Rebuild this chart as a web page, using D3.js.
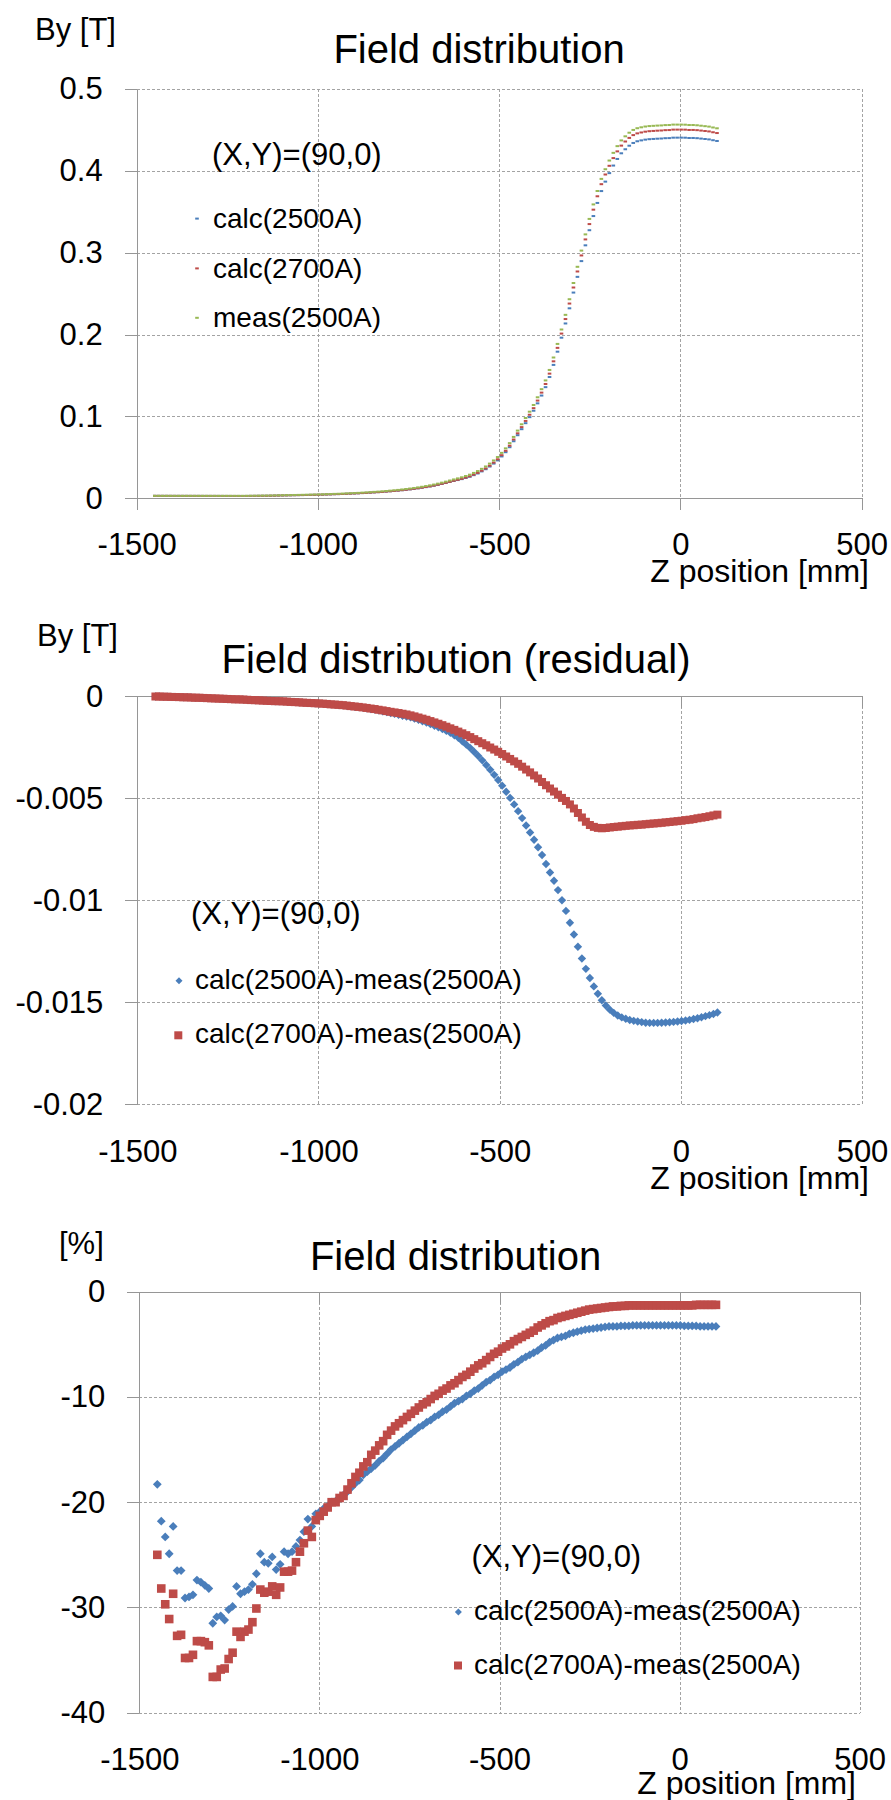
<!DOCTYPE html>
<html>
<head>
<meta charset="utf-8">
<script src="https://cdn.jsdelivr.net/npm/d3@7"></script>
<style>
  html, body { margin: 0; padding: 0; background: #fff; }
  svg { display: block; font-family: "Liberation Sans", Arial, Helvetica, sans-serif; }
</style>
</head>
<body>
<svg id="chart" width="891" height="1800"></svg>
<script>
// Z positions of the field map [mm]
const zPosition = [-1450,-1439,-1428,-1417,-1406,-1395,-1384,-1373,-1362,-1351,-1340,-1329,-1318,-1307,-1296,-1285,-1274,-1263,-1252,-1241,-1230,-1219,-1208,-1197,-1186,-1175,-1164,-1153,-1142,-1131,-1120,-1109,-1098,-1087,-1076,-1065,-1054,-1043,-1032,-1021,-1010,-999,-988,-977,-966,-955,-944,-933,-922,-911,-900,-889,-878,-867,-856,-845,-834,-823,-812,-801,-790,-779,-768,-757,-746,-735,-724,-713,-702,-691,-680,-669,-658,-647,-636,-625,-614,-603,-592,-581,-570,-559,-548,-537,-526,-515,-504,-493,-482,-471,-460,-449,-438,-427,-416,-405,-394,-383,-372,-361,-350,-339,-328,-317,-306,-295,-284,-273,-262,-251,-240,-229,-218,-207,-196,-185,-174,-163,-152,-141,-130,-119,-108,-97,-86,-75,-64,-53,-42,-31,-20,-9,2,13,24,35,46,57,68,79,90,101];

// By [T] at (X,Y)=(90,0)
const calc2500A = [0.00299,0.00299,0.00298,0.00298,0.00297,0.00296,0.00296,0.00295,0.00295,0.00294,
  0.00293,0.00293,0.00292,0.00291,0.0029,0.0029,0.00289,0.00288,0.00287,0.00286,
  0.00285,0.00285,0.00284,0.00286,0.00292,0.00296,0.003,0.00306,0.00308,0.00316,
  0.00326,0.00337,0.00347,0.00357,0.00367,0.00377,0.00387,0.00396,0.00406,0.00416,
  0.00426,0.00436,0.00448,0.00466,0.00479,0.00499,0.00513,0.00529,0.00549,0.00569,
  0.00589,0.0061,0.00639,0.0066,0.0069,0.0072,0.00749,0.00778,0.00815,0.00855,
  0.00894,0.00935,0.00985,0.01036,0.01091,0.01151,0.01217,0.01287,0.01365,0.01446,
  0.01536,0.01639,0.01752,0.01867,0.01994,0.02114,0.02229,0.02344,0.02483,0.02631,
  0.02827,0.03032,0.03286,0.03553,0.0388,0.0424,0.0463,0.05112,0.05632,0.06242,
  0.0697,0.07707,0.08443,0.09177,0.09912,0.10697,0.116,0.12552,0.13578,0.14816,
  0.16296,0.1791,0.1962,0.21358,0.2321,0.25132,0.27052,0.28975,0.30904,0.32749,
  0.34478,0.36082,0.3753,0.38684,0.39724,0.40648,0.41455,0.42146,0.42639,0.43073,
  0.43409,0.43616,0.43723,0.43815,0.43869,0.43899,0.43929,0.4395,0.43991,0.44002,
  0.44054,0.44056,0.44058,0.44051,0.44014,0.44018,0.43992,0.43942,0.43892,0.43842,
  0.43743,0.4365];

const calc2700A = [0.00299,0.00299,0.00298,0.00298,0.00297,0.00296,0.00296,0.00295,0.00295,0.00294,
  0.00293,0.00293,0.00292,0.00291,0.0029,0.0029,0.00289,0.00288,0.00287,0.00286,
  0.00285,0.00285,0.00284,0.00286,0.00292,0.00296,0.003,0.00306,0.00308,0.00316,
  0.00326,0.00337,0.00347,0.00357,0.00367,0.00377,0.00387,0.00396,0.00406,0.00416,
  0.00426,0.00436,0.00448,0.00466,0.00479,0.005,0.00514,0.00531,0.00551,0.0057,
  0.0059,0.00611,0.0064,0.00662,0.00692,0.00723,0.00752,0.00782,0.0082,0.0086,
  0.00901,0.00943,0.00995,0.01046,0.01101,0.01162,0.01228,0.013,0.01379,0.01461,
  0.01552,0.01657,0.01771,0.01887,0.02015,0.02141,0.02259,0.02383,0.0253,0.02685,
  0.0289,0.03105,0.0337,0.0365,0.03989,0.04364,0.04768,0.05267,0.05805,0.06433,
  0.07181,0.07939,0.08695,0.09451,0.10207,0.11012,0.11937,0.1291,0.13964,0.15228,
  0.16733,0.18378,0.20122,0.21897,0.2379,0.2575,0.27708,0.29666,0.31625,0.33499,
  0.3526,0.36895,0.38373,0.39555,0.40617,0.41559,0.42381,0.43083,0.43585,0.44027,
  0.44368,0.4458,0.44691,0.44788,0.44845,0.44877,0.44908,0.4493,0.44972,0.44984,
  0.45036,0.45038,0.4504,0.45033,0.44995,0.44998,0.44972,0.4492,0.44868,0.44817,
  0.44716,0.4462];

const meas2500A = [0.003,0.003,0.003,0.003,0.003,0.003,0.003,0.003,0.003,0.003,
  0.003,0.003,0.003,0.003,0.003,0.003,0.003,0.003,0.003,0.003,
  0.003,0.003,0.003,0.00303,0.0031,0.00315,0.0032,0.00327,0.0033,0.00339,
  0.0035,0.00361,0.00372,0.00383,0.00394,0.00405,0.00416,0.00427,0.00438,0.00449,
  0.0046,0.00471,0.00484,0.00503,0.00518,0.0054,0.00556,0.00574,0.00596,0.00618,
  0.0064,0.00663,0.00694,0.00719,0.00752,0.00785,0.00818,0.00851,0.00892,0.00936,
  0.0098,0.01025,0.0108,0.01135,0.01194,0.0126,0.01332,0.01409,0.01494,0.01582,
  0.0168,0.01791,0.01912,0.02036,0.02172,0.02305,0.02432,0.02564,0.0272,0.02885,
  0.031,0.03325,0.036,0.0389,0.0424,0.04625,0.0504,0.0555,0.061,0.0674,
  0.075,0.0827,0.0904,0.0981,0.1058,0.114,0.1234,0.1333,0.144,0.1568,
  0.172,0.1886,0.2062,0.2241,0.2432,0.263,0.2828,0.3026,0.3224,0.3413,
  0.359,0.3754,0.3902,0.402,0.4126,0.422,0.4302,0.4372,0.4422,0.4466,
  0.45,0.4521,0.4532,0.45415,0.4547,0.455,0.4553,0.4555,0.4559,0.456,
  0.4565,0.4565,0.4565,0.4564,0.456,0.456,0.4557,0.45515,0.4546,0.45405,
  0.453,0.452];

// Residual calc - meas [T]
const resid2500A = [-0.00001,-0.00001,-0.00002,-0.00002,-0.00003,-0.000035,-0.00004,-0.00005,-0.00005,-0.00006,
  -0.00007,-0.00007,-0.00008,-0.00009,-0.0001,-0.000105,-0.000115,-0.00012,-0.00013,-0.00014,
  -0.00015,-0.00015,-0.00016,-0.00017,-0.000185,-0.00019,-0.0002,-0.00021,-0.00022,-0.00023,
  -0.00024,-0.00024,-0.00025,-0.00026,-0.000275,-0.000285,-0.000295,-0.00031,-0.00032,-0.00033,
  -0.00034,-0.00035,-0.00036,-0.000375,-0.000395,-0.00041,-0.000425,-0.000445,-0.000465,-0.00049,
  -0.00051,-0.00053,-0.000555,-0.00059,-0.00062,-0.000655,-0.00069,-0.00073,-0.00077,-0.000815,
  -0.00086,-0.000905,-0.00095,-0.00099,-0.00103,-0.001095,-0.001155,-0.00122,-0.00129,-0.001365,
  -0.00144,-0.00152,-0.001605,-0.001695,-0.001785,-0.001915,-0.00203,-0.0022,-0.00237,-0.00254,
  -0.00273,-0.00293,-0.00314,-0.00337,-0.0036,-0.00385,-0.0041,-0.00438,-0.00468,-0.00498,
  -0.0053,-0.00563,-0.00597,-0.00633,-0.00668,-0.00703,-0.0074,-0.00778,-0.00822,-0.00864,
  -0.00904,-0.0095,-0.01,-0.01052,-0.0111,-0.01168,-0.01228,-0.01285,-0.01336,-0.01381,
  -0.01422,-0.01458,-0.0149,-0.01516,-0.01536,-0.01552,-0.01565,-0.01574,-0.01581,-0.01587,
  -0.01591,-0.01594,-0.01597,-0.016,-0.01601,-0.01601,-0.01601,-0.016,-0.01599,-0.01598,
  -0.01596,-0.01594,-0.01592,-0.01589,-0.01586,-0.01582,-0.01578,-0.01573,-0.01568,-0.01563,
  -0.01557,-0.0155];

const resid2700A = [-0.00001,-0.00001,-0.00002,-0.00002,-0.00003,-0.000035,-0.00004,-0.00005,-0.00005,-0.00006,
  -0.00007,-0.00007,-0.00008,-0.00009,-0.0001,-0.000105,-0.000115,-0.00012,-0.00013,-0.00014,
  -0.00015,-0.00015,-0.00016,-0.00017,-0.000185,-0.00019,-0.0002,-0.00021,-0.00022,-0.00023,
  -0.00024,-0.00024,-0.00025,-0.00026,-0.000275,-0.000285,-0.000295,-0.00031,-0.00032,-0.00033,
  -0.00034,-0.00035,-0.00036,-0.000375,-0.000395,-0.000405,-0.00042,-0.000435,-0.000455,-0.00048,
  -0.0005,-0.00052,-0.000545,-0.00057,-0.0006,-0.000625,-0.00066,-0.00069,-0.000725,-0.00076,
  -0.00079,-0.00082,-0.000855,-0.00089,-0.000935,-0.000985,-0.00104,-0.001095,-0.00115,-0.001215,
  -0.00128,-0.001345,-0.001415,-0.00149,-0.00157,-0.001645,-0.00173,-0.001815,-0.001905,-0.002,
  -0.0021,-0.0022,-0.0023,-0.0024,-0.00251,-0.00261,-0.00272,-0.00283,-0.00295,-0.00307,
  -0.00319,-0.00331,-0.00345,-0.00359,-0.00373,-0.00388,-0.00403,-0.0042,-0.00436,-0.00452,
  -0.00467,-0.00482,-0.00498,-0.00513,-0.0053,-0.0055,-0.00572,-0.00594,-0.00615,-0.00631,
  -0.0064,-0.00645,-0.00647,-0.006455,-0.00643,-0.00641,-0.00639,-0.00637,-0.00635,-0.00633,
  -0.00632,-0.0063,-0.00629,-0.00627,-0.00625,-0.006235,-0.00622,-0.0062,-0.00618,-0.00616,
  -0.00614,-0.00612,-0.0061,-0.00607,-0.00605,-0.00602,-0.00598,-0.00595,-0.00592,-0.00588,
  -0.00584,-0.0058];

// Relative residual (calc - meas) / meas [%]
const ratio2500A = [-18.3,-21.8,-23.3,-24.9,-22.3,-26.5,-26.5,-29.1,-29.0,-28.8,
  -27.4,-27.6,-27.9,-28.2,-31.5,-30.9,-30.8,-31.2,-30.2,-29.9,
  -28.0,-28.7,-28.5,-28.3,-27.8,-26.8,-24.9,-25.7,-25.8,-25.2,
  -26.4,-25.9,-24.7,-24.9,-24.7,-24.2,-23.6,-22.8,-21.6,-22.3,
  -21.1,-20.9,-20.6,-20.4,-20.0,-19.9,-19.6,-19.3,-19.0,-18.6,
  -18.2,-17.9,-17.4,-17.1,-16.8,-16.5,-16.1,-15.8,-15.4,-15.0,
  -14.7,-14.4,-14.1,-13.8,-13.5,-13.2,-12.9,-12.7,-12.4,-12.2,
  -11.9,-11.7,-11.4,-11.2,-10.9,-10.6,-10.4,-10.2,-9.9,-9.7,
  -9.4,-9.2,-8.9,-8.6,-8.4,-8.1,-7.9,-7.6,-7.4,-7.2,
  -6.9,-6.7,-6.4,-6.2,-6.0,-5.8,-5.6,-5.3,-5.1,-4.8,
  -4.6,-4.4,-4.3,-4.2,-4.0,-3.9,-3.8,-3.7,-3.6,-3.55,
  -3.5,-3.45,-3.4,-3.35,-3.3,-3.3,-3.3,-3.25,-3.25,-3.25,
  -3.2,-3.2,-3.2,-3.2,-3.2,-3.2,-3.2,-3.2,-3.2,-3.2,
  -3.2,-3.2,-3.2,-3.25,-3.25,-3.25,-3.25,-3.3,-3.3,-3.3,
  -3.3,-3.3];

const ratio2700A = [-25.0,-28.2,-29.7,-31.1,-28.7,-32.7,-32.6,-34.8,-34.8,-34.5,
  -33.2,-33.2,-33.3,-33.6,-36.6,-36.6,-35.9,-35.8,-34.9,-34.3,
  -32.3,-32.8,-32.3,-32.1,-31.4,-30.1,-28.3,-28.6,-28.5,-28.0,
  -28.8,-28.1,-26.6,-26.6,-26.5,-25.7,-24.7,-23.9,-22.7,-23.3,
  -21.7,-21.3,-20.9,-20.5,-20.0,-20.0,-19.6,-19.4,-18.8,-18.2,
  -17.6,-17.2,-16.6,-16.2,-15.5,-15.1,-14.6,-14.2,-13.6,-13.2,
  -12.8,-12.5,-12.2,-11.9,-11.6,-11.3,-11.0,-10.7,-10.5,-10.2,
  -9.9,-9.7,-9.4,-9.2,-8.9,-8.7,-8.4,-8.1,-7.9,-7.6,
  -7.3,-7.0,-6.8,-6.5,-6.2,-5.9,-5.7,-5.4,-5.2,-5.0,
  -4.7,-4.5,-4.3,-4.1,-3.9,-3.7,-3.4,-3.2,-3.0,-2.8,
  -2.7,-2.5,-2.4,-2.3,-2.2,-2.1,-2.0,-1.9,-1.8,-1.7,
  -1.65,-1.6,-1.55,-1.5,-1.45,-1.4,-1.4,-1.35,-1.35,-1.3,
  -1.3,-1.3,-1.3,-1.3,-1.3,-1.3,-1.3,-1.3,-1.3,-1.3,
  -1.3,-1.3,-1.3,-1.3,-1.3,-1.3,-1.25,-1.25,-1.25,-1.25,
  -1.25,-1.25];

// Axis ticks and labels
const xTickValues = [-1500, -1000, -500, 0, 500];
const yTicksField = [0, 0.1, 0.2, 0.3, 0.4, 0.5];
const yTicksResidual = [0, -0.005, -0.01, -0.015, -0.02];
const yTicksRatio = [0, -10, -20, -30, -40];
const fieldLegend = ["calc(2500A)", "calc(2700A)", "meas(2500A)"];
const residLegend = ["calc(2500A)-meas(2500A)", "calc(2700A)-meas(2500A)"];

const BLUE = "#4A7EBB", RED = "#BE4B48", GREEN = "#98B954";
const AXIS_COLOR = "#969696", GRID_COLOR = "#a3a3a3";
const FONT = '"Liberation Sans", Arial, Helvetica, sans-serif';

const svg = d3.select("#chart");
svg.append("rect").attr("width", 891).attr("height", 1800).attr("fill", "#fff");

// marker painters; (cx, cy) come from the scales
function marker(g, shape, cx, cy, color, size) {
  if (shape === "dash") {
    g.append("rect").attr("x", cx - 1.8).attr("y", cy - 1).attr("width", 3.6).attr("height", 2).attr("fill", color);
  } else if (shape === "square") {
    g.append("rect").attr("x", cx - size / 2).attr("y", cy - size / 2).attr("width", size).attr("height", size).attr("fill", color);
  } else {
    const r = size / 2;
    g.append("path").attr("d", `M${cx},${cy - r}L${cx + r},${cy}L${cx},${cy + r}L${cx - r},${cy}Z`).attr("fill", color);
  }
}

function text(str, x, y, size, anchor) {
  svg.append("text").attr("x", x).attr("y", y).attr("font-size", size)
    .attr("text-anchor", anchor || "start").attr("fill", "#000").text(str);
}

function drawPanel(cfg) {
  const g = svg.append("g");
  const x = d3.scaleLinear().domain([-1500, 500]).range([cfg.left, cfg.right]);
  const y = d3.scaleLinear().domain(cfg.yDomain).range([cfg.bottom, cfg.top]);
  const w = cfg.right - cfg.left, h = cfg.bottom - cfg.top;

  // dashed major gridlines
  const gridY = g.append("g").attr("transform", `translate(${cfg.left},0)`)
    .call(d3.axisLeft(y).tickValues(cfg.yTicks).tickSize(-w).tickFormat(""));
  const gridX = g.append("g").attr("transform", `translate(0,${cfg.top})`)
    .call(d3.axisBottom(x).tickValues(xTickValues.slice(1)).tickSize(h).tickFormat(""));
  [gridY, gridX].forEach(s => {
    s.select(".domain").remove();
    s.selectAll("line").attr("stroke", GRID_COLOR).attr("stroke-dasharray", "3,2")
      .attr("shape-rendering", "crispEdges");
  });

  // horizontal axis at By = 0 (bottom in the first panel, top in the others)
  const xAxis = g.append("g").attr("transform", `translate(0,${y(0)})`)
    .call(d3.axisBottom(x).tickValues(xTickValues).tickSizeInner(12).tickSizeOuter(0)
      .tickPadding(22.7).tickFormat(cfg.labelsOnAxis ? (d => String(d)) : ""));
  // vertical axis
  const yAxis = g.append("g").attr("transform", `translate(${cfg.left},0)`)
    .call(d3.axisLeft(y).tickValues(cfg.yTicks).tickSizeInner(12).tickSizeOuter(0)
      .tickPadding(22).tickFormat(d => String(d)));
  [xAxis, yAxis].forEach(s => {
    s.attr("font-family", FONT).attr("font-size", 31);
    s.selectAll("path, line").attr("stroke", AXIS_COLOR).attr("shape-rendering", "crispEdges");
    s.selectAll("text").attr("fill", "#000");
  });

  if (!cfg.labelsOnAxis) {
    // tick labels placed below the plot area
    const low = g.append("g").attr("transform", `translate(0,${cfg.bottom})`)
      .call(d3.axisBottom(x).tickValues(xTickValues).tickSize(0).tickPadding(35.5).tickFormat(d => String(d)));
    low.attr("font-family", FONT).attr("font-size", 31);
    low.select(".domain").remove();
    low.selectAll("text").attr("fill", "#000");
  }

  // data markers
  const mg = g.append("g");
  cfg.series.forEach(s => {
    zPosition.forEach((z, i) => marker(mg, s.shape, x(z), y(s.values[i]), s.color, s.size));
  });
  return { x, y };
}

/* ---------- panel 1: field distribution ---------- */
drawPanel({
  left: 136.7, right: 861.6, top: 89, bottom: 498.3,
  yDomain: [0, 0.5], yTicks: yTicksField, labelsOnAxis: true,
  series: [
    { values: calc2500A, color: BLUE, shape: "dash" },
    { values: calc2700A, color: RED, shape: "dash" },
    { values: meas2500A, color: GREEN, shape: "dash" }
  ]
});
text("By [T]", 35, 40, 31);
text("Field distribution", 479, 63, 40, "middle");
text("Z position [mm]", 869, 582, 32, "end");
text("(X,Y)=(90,0)", 212, 165, 31);
{
  const lg = svg.append("g");
  const rows = [218.6, 268.4, 317.8];
  const cols = [BLUE, RED, GREEN];
  fieldLegend.forEach((label, i) => {
    marker(lg, "dash", 197, rows[i], cols[i]);
    text(label, 213, rows[i] + 9.5, 28);
  });
}

/* ---------- panel 2: residual ---------- */
drawPanel({
  left: 137.3, right: 862, top: 696.3, bottom: 1104.3,
  yDomain: [-0.02, 0], yTicks: yTicksResidual, labelsOnAxis: false,
  series: [
    { values: resid2500A, color: BLUE, shape: "diamond", size: 8.4 },
    { values: resid2700A, color: RED, shape: "square", size: 8 }
  ]
});
text("By [T]", 37, 646, 31);
text("Field distribution (residual)", 456, 673, 40, "middle");
text("Z position [mm]", 869, 1188.5, 32, "end");
text("(X,Y)=(90,0)", 191, 924, 31);
{
  const lg = svg.append("g");
  marker(lg, "diamond", 179, 980.7, BLUE, 7);
  marker(lg, "square", 178.3, 1035.3, RED, 8);
  text(residLegend[0], 195, 988.5, 28);
  text(residLegend[1], 195, 1042.5, 28);
}

/* ---------- panel 3: relative residual ---------- */
drawPanel({
  left: 139.3, right: 859.7, top: 1291.7, bottom: 1712.7,
  yDomain: [-40, 0], yTicks: yTicksRatio, labelsOnAxis: false,
  series: [
    { values: ratio2500A, color: BLUE, shape: "diamond", size: 8.8 },
    { values: ratio2700A, color: RED, shape: "square", size: 8.6 }
  ]
});
text("[%]", 59, 1254, 31);
text("Field distribution", 455.5, 1269.5, 40, "middle");
text("Z position [mm]", 856, 1793.5, 32, "end");
text("(X,Y)=(90,0)", 471.5, 1566.5, 31);
{
  const lg = svg.append("g");
  marker(lg, "diamond", 458.4, 1612, BLUE, 7);
  marker(lg, "square", 458, 1665.5, RED, 8);
  text(residLegend[0], 474, 1620, 28);
  text(residLegend[1], 474, 1674, 28);
}
</script>
</body>
</html>
